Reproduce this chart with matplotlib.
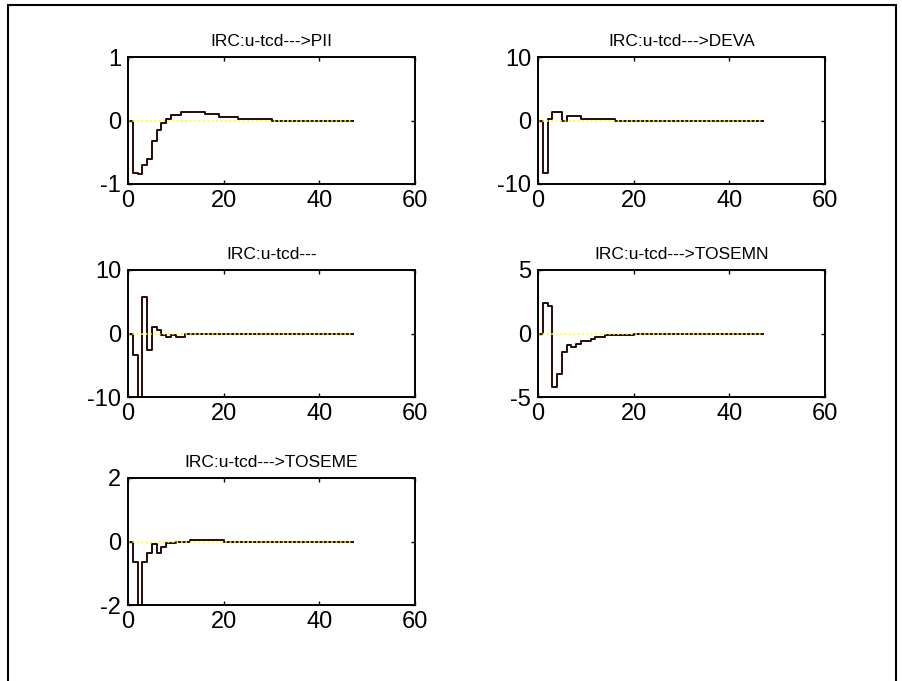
import matplotlib.pyplot as plt
from matplotlib.patches import Rectangle
import numpy as np

plt.rcParams['font.family'] = ['Liberation Sans', 'DejaVu Sans']

# impulse responses to a u-tcd shock, one value per period (0..46)
steps = np.arange(0, 48)

pii = [0, -0.83, -0.85, -0.70, -0.61, -0.33, -0.15, -0.04, 0.03, 0.09,
       0.09, 0.13, 0.13, 0.13, 0.13, 0.13, 0.10, 0.10, 0.10, 0.06,
       0.06, 0.06, 0.06, 0.03, 0.03, 0.03, 0.03, 0.03, 0.03, 0.03] + [0] * 17

deva = [0, -8.3, 0.26, 1.26, 1.26, 0, 0.63, 0.63, 0.63, 0.3,
        0.3, 0.3, 0.3, 0.3, 0.3, 0.3] + [0] * 31

cons = [0, -3.4, -10.0, 5.8, -2.6, 1.0, 0.6, -0.27, -0.5, -0.27,
        -0.5, -0.5, -0.15, -0.15, -0.15, -0.15, -0.15, -0.15, -0.15, -0.15,
        -0.15] + [0] * 26

tosemn = [0, 2.38, 2.2, -4.2, -3.2, -1.47, -0.94, -1.1, -0.86, -0.6,
          -0.6, -0.45, -0.27, -0.27, -0.08, -0.08, -0.08, -0.08, -0.08, -0.08] + [0] * 27

toseme = [0, -0.63, -2.0, -0.66, -0.35, -0.08, -0.35, -0.17, -0.06, -0.06,
          -0.01, -0.01, -0.01, 0.06, 0.06, 0.06, 0.06, 0.06, 0.06, 0.06] + [0] * 27

titles = ['IRC:u-tcd--->PII', 'IRC:u-tcd--->DEVA', 'IRC:u-tcd---',
          'IRC:u-tcd--->TOSEMN', 'IRC:u-tcd--->TOSEME']
series = [pii, deva, cons, tosemn, toseme]
ylims = [1, 10, 10, 5, 2]

W, H = 903, 681
fig = plt.figure(figsize=(W / 100, H / 100), dpi=100)

# outer frame
fig.patches.append(Rectangle((8 / W, -0.05), 888 / W, 1.05 - 5 / H,
                             transform=fig.transFigure, fill=False,
                             edgecolor='black', linewidth=1.5))

lefts = [128, 538]
tops = [57, 270, 478]
aw, ah = 287, 127

for i, (title, vals, lim) in enumerate(zip(titles, series, ylims)):
    row, col = divmod(i, 2)
    ax = fig.add_axes([lefts[col] / W, 1 - (tops[row] + ah) / H, aw / W, ah / H])
    y = np.array(vals + [vals[-1]])
    x = np.append(steps[:len(vals)], len(vals))
    ax.step(x, y, where='post', color='#2a0808', linewidth=1.4)
    # zero reference line on top of the response
    ax.plot([0, 47], [0, 0], color='yellow', linestyle=':', linewidth=1.2)
    ax.set_xlim(0, 60)
    ax.set_ylim(-lim, lim)
    ax.set_xticks([0, 20, 40, 60])
    ax.set_yticks([-lim, 0, lim])
    ax.set_yticklabels([str(-lim), '0', str(lim)])
    ax.tick_params(direction='in', top=True, right=True, labelsize=17,
                   length=3, width=1)
    ax.tick_params(axis='x', pad=4.5)
    ax.tick_params(axis='y', pad=5)
    for s in ax.spines.values():
        s.set_linewidth(1.4)
    ax.set_title(title, fontsize=12.5, pad=8)

fig.savefig('out.png', dpi=100)
